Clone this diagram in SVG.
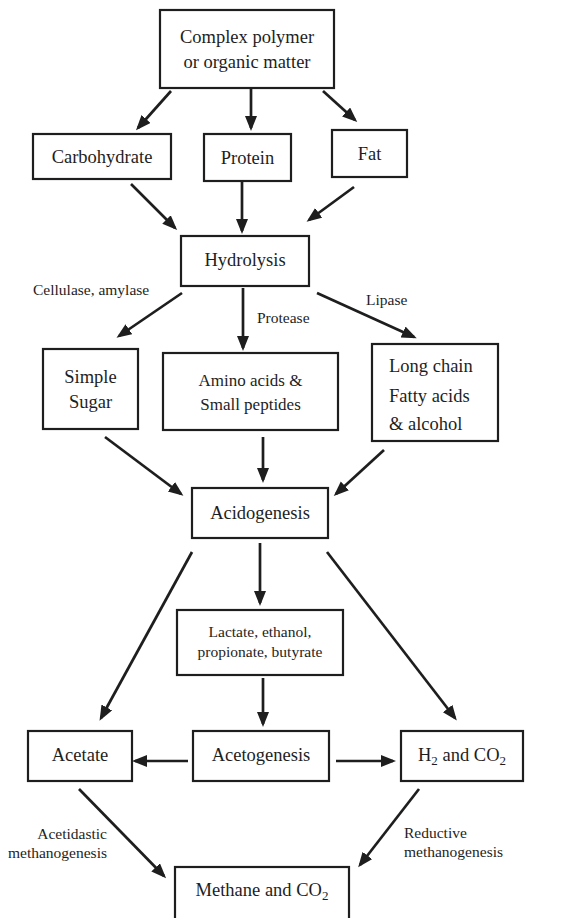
<svg xmlns="http://www.w3.org/2000/svg" width="586" height="918" viewBox="0 0 586 918" font-family="'Liberation Serif', 'Times New Roman', Times, serif">
<style>
.box{fill:#fff;stroke:#1e1e1e;stroke-width:2.2}
.t{font-family:'Liberation Serif','Times New Roman',Times,serif;fill:#1e1e1e;text-anchor:middle;font-size:18.5px}
.l{font-family:'Liberation Serif','Times New Roman',Times,serif;fill:#1e1e1e;font-size:15.5px}
.c{stroke:#1e1e1e;stroke-width:2.7;fill:none;marker-end:url(#ah)}
</style>
<defs>
<marker id="ah" markerUnits="userSpaceOnUse" markerWidth="16" markerHeight="14" refX="12" refY="6" orient="auto">
<path d="M0,0 L15,6 L0,12 z" fill="#1e1e1e"/>
</marker>
</defs>
<rect width="586" height="918" fill="#fff"/>
<g id="connectors">
<line class="c" x1="171" y1="91" x2="138" y2="128"/>
<line class="c" x1="251" y1="88" x2="251" y2="128"/>
<line class="c" x1="323" y1="91" x2="355" y2="120"/>
<line class="c" x1="131" y1="184" x2="175" y2="228"/>
<line class="c" x1="242" y1="181" x2="242" y2="231"/>
<line class="c" x1="354" y1="187" x2="309" y2="220"/>
<line class="c" x1="182" y1="293" x2="119" y2="336"/>
<line class="c" x1="243" y1="288" x2="243" y2="348"/>
<line class="c" x1="317" y1="293" x2="414" y2="337"/>
<line class="c" x1="105" y1="437" x2="181" y2="494"/>
<line class="c" x1="263" y1="437" x2="263" y2="480"/>
<line class="c" x1="384" y1="450" x2="336" y2="494"/>
<line class="c" x1="192" y1="552" x2="101" y2="718"/>
<line class="c" x1="260" y1="543" x2="260" y2="603"/>
<line class="c" x1="327" y1="552" x2="455" y2="718"/>
<line class="c" x1="263" y1="678" x2="263" y2="724"/>
<line class="c" x1="188" y1="761" x2="135" y2="761"/>
<line class="c" x1="336" y1="761" x2="393" y2="761"/>
<line class="c" x1="79" y1="789" x2="164" y2="876"/>
<line class="c" x1="419" y1="789" x2="360" y2="865"/>
</g>
<g id="complex"><rect class="box" x="160" y="10" width="174" height="78"/><text class="t" x="247" y="43">Complex polymer</text><text class="t" x="247" y="68">or organic matter</text></g>
<g id="carbohydrate"><rect class="box" x="33" y="134" width="138" height="45"/><text class="t" x="102" y="163">Carbohydrate</text></g>
<g id="protein"><rect class="box" x="204" y="134" width="87" height="47"/><text class="t" x="247.5" y="164">Protein</text></g>
<g id="fat"><rect class="box" x="332" y="130" width="75" height="47"/><text class="t" x="369.5" y="160">Fat</text></g>
<g id="hydrolysis"><rect class="box" x="181" y="236" width="128" height="50"/><text class="t" x="245" y="266">Hydrolysis</text></g>
<g id="labels1">
<text class="l" x="33" y="295">Cellulase, amylase</text>
<text class="l" x="257" y="323">Protease</text>
<text class="l" x="366" y="305">Lipase</text>
</g>
<g id="simple-sugar"><rect class="box" x="43" y="349" width="95" height="80"/><text class="t" x="90.5" y="383">Simple</text><text class="t" x="90.5" y="408">Sugar</text></g>
<g id="amino"><rect class="box" x="163" y="353" width="175" height="77"/><text class="t" x="250.5" y="386" style="font-size:17px">Amino acids &amp;</text><text class="t" x="250.5" y="410" style="font-size:17px">Small peptides</text></g>
<g id="long-chain"><rect class="box" x="372" y="344" width="126" height="97"/><text class="t" x="389" y="372" style="text-anchor:start">Long chain</text><text class="t" x="389" y="402" style="text-anchor:start">Fatty acids</text><text class="t" x="389" y="430" style="text-anchor:start">&amp; alcohol</text></g>
<g id="acidogenesis"><rect class="box" x="192" y="488" width="136" height="50"/><text class="t" x="260" y="519">Acidogenesis</text></g>
<g id="lactate"><rect class="box" x="177" y="610" width="166" height="65"/><text class="t" x="260" y="637" style="font-size:15.5px">Lactate, ethanol,</text><text class="t" x="260" y="657" style="font-size:15.5px">propionate, butyrate</text></g>
<g id="acetate"><rect class="box" x="28" y="731" width="104" height="50"/><text class="t" x="80" y="761">Acetate</text></g>
<g id="acetogenesis"><rect class="box" x="193" y="731" width="136" height="50"/><text class="t" x="261" y="761">Acetogenesis</text></g>
<g id="h2co2"><rect class="box" x="401" y="731" width="122" height="50"/><text class="t" x="462" y="761">H<tspan dy="4" style="font-size:13px">2</tspan><tspan dy="-4"> and CO</tspan><tspan dy="4" style="font-size:13px">2</tspan></text></g>
<g id="labels2">
<text class="l" x="107" y="839" style="text-anchor:end">Acetidastic</text>
<text class="l" x="107" y="858" style="text-anchor:end">methanogenesis</text>
<text class="l" x="404" y="838">Reductive</text>
<text class="l" x="404" y="857">methanogenesis</text>
</g>
<g id="methane"><rect class="box" x="175" y="867" width="174" height="70"/><text class="t" x="262" y="896">Methane and CO<tspan dy="4" style="font-size:13px">2</tspan></text></g>
</svg>
